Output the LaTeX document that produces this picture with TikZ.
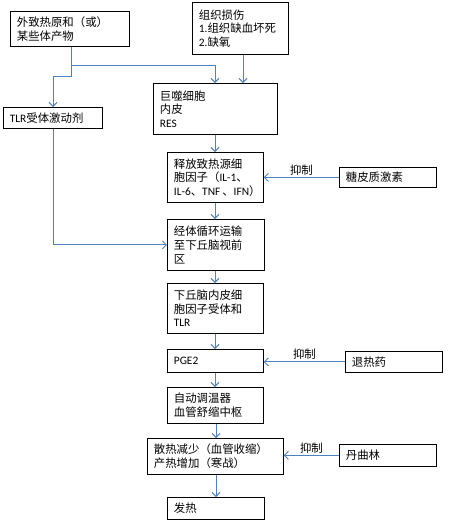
\documentclass[tikz,border=0pt]{standalone}
\usepackage{fontspec}
\setmainfont{Carlito}
\newfontfamily\cjk{Noto Sans CJK SC}
\usetikzlibrary{arrows.meta,calc}
\definecolor{lblue}{RGB}{79,129,189}
\newcommand\lat[1]{{\rmfamily #1}}
\newcommand\mybox[6]{\node[bx, minimum width=#4pt, minimum height=#5pt, text width=#4pt-13pt] (#1) at (#2,#3) {#6};}
\begin{document}
\begin{tikzpicture}[x=1pt,y=-1pt,
  bx/.style={draw=black, line width=0.8pt, anchor=north west, align=left, inner xsep=6.5pt, inner ysep=0pt, font=\cjk\fontsize{11.4}{13.6}\selectfont},
  ln/.style={draw=lblue, line width=0.9pt, -{Straight Barb[length=4pt,width=8pt]}},
  lab/.style={above, inner sep=2pt, text=black, font=\cjk\fontsize{11.4}{13.6}\selectfont}]
\useasboundingbox (0,0) rectangle (473,523);
\mybox{A}{10}{11}{119}{35}{外致热原和（或）\\某些体产物}
\mybox{B}{192}{2}{96}{52}{组织损伤\\\lat{1.}组织缺血坏死\\\lat{2.}缺氧}
\mybox{M}{153}{83}{124}{51}{巨噬细胞\\内皮\\\lat{RES}}
\mybox{TLR}{3}{107}{99}{21}{\lat{TLR}受体激动剂}
\mybox{R}{167}{152}{96}{50}{释放致热源细\\胞因子（\lat{IL-1}、\\\mbox{\lat{IL-6}、\lat{TNF}\,、\lat{IFN}）}}
\mybox{G}{339}{167}{97}{20}{糖皮质激素}
\mybox{T}{167}{219}{97}{51}{经体循环运输\\至下丘脑视前\\区}
\mybox{H}{167}{283}{96}{50}{下丘脑内皮细\\胞因子受体和\\\lat{TLR}}
\mybox{P}{167}{349}{96}{23}{\lat{PGE2}}
\mybox{D}{345}{351}{97}{21}{退热药}
\mybox{Z}{167}{387}{96}{36}{自动调温器\\血管舒缩中枢}
\mybox{S}{147}{438}{136}{36}{散热减少（血管收缩）\\产热增加（寒战）}
\mybox{L}{339}{444}{97}{22}{丹曲林}
\mybox{F}{167}{497}{97}{22}{发热}
\coordinate (j1) at (71,65);
\coordinate (j2) at (71,76);
\coordinate (xt) at (53,0);
\coordinate (xm) at (215,0);
\coordinate (xb) at (243,0);
\coordinate (xs) at (216,0);
\draw[ln] (A.south -| j1) -- (j2) -| (TLR.north -| xt);
\draw[ln] (j1) -| (M.north -| xm);
\draw[ln] (B.south -| xb) -- (M.north -| xb);
\draw[ln] (M.south -| xm) -- (R.north -| xm);
\draw[ln] (R.south -| xm) -- (T.north -| xm);
\draw[ln] (TLR.south -| xt) |- (T.west);
\draw[ln] (T.south -| xm) -- (H.north -| xm);
\draw[ln] (H.south -| xm) -- (P.north -| xm);
\draw[ln] (P.south -| xm) -- (Z.north -| xm);
\draw[ln] (Z.south -| xs) -- (S.north -| xs);
\draw[ln] (S.south -| xs) -- (F.north -| xs);
\draw[ln] (G.west) -- node[lab] (g1) {抑制} (G.west -| R.east);
\draw[ln] (D.west) -- node[lab] (g2) {抑制} (D.west -| P.east);
\draw[ln] (L.west) -- node[lab] (g3) {抑制} (L.west -| S.east);
\end{tikzpicture}
\end{document}
